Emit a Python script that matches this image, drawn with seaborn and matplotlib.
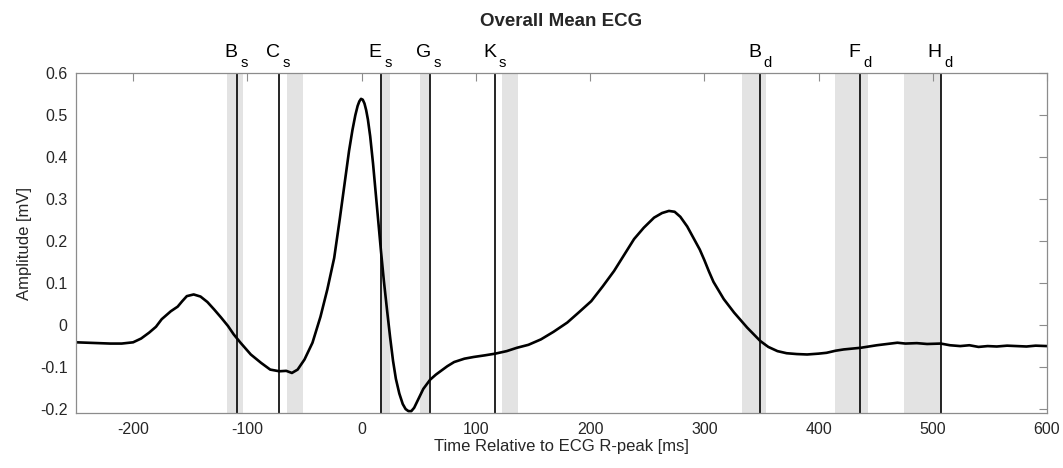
import numpy as np
import pandas as pd
import matplotlib
matplotlib.use('Agg')
import matplotlib.pyplot as plt
import seaborn as sns

# mean ECG trace
time_ms = [-250, -240, -230, -220, -210, -200, -193, -186, -180, -175, -167, -161, -157,
           -153, -147, -141, -135, -129, -123, -117, -112, -106, -97, -88, -80, -72, -66,
           -61, -56, -50, -43, -36, -30, -24, -19, -15, -11, -8, -5.5, -3.5, -2, -0.5,
           1, 2.5, 4, 5.5, 7.5, 10, 12.5, 15, 17, 19.5, 22.5, 25, 27.5, 30, 33, 36, 38.5,
           41, 43.5, 46, 49, 54, 60, 65, 69, 75, 81, 90, 98, 108, 117, 127, 136, 146, 157,
           168, 180, 190, 201, 211, 221, 230, 238.5, 247, 256, 263, 269, 274, 279, 285,
           291, 296, 300, 304, 308, 317, 326, 337.5, 349, 356, 364, 372, 381, 390, 400,
           407, 415, 422, 430, 437, 444, 451, 460, 469, 476, 486, 495, 507, 515, 524, 532,
           540, 548, 556, 565, 573, 582, 590, 600]
amp_mv = [-0.041, -0.042, -0.043, -0.044, -0.044, -0.041, -0.032, -0.018, -0.004, 0.014,
          0.033, 0.044, 0.057, 0.069, 0.073, 0.068, 0.055, 0.037, 0.018, -0.002, -0.022,
          -0.042, -0.070, -0.090, -0.106, -0.110, -0.109, -0.114, -0.106, -0.082, -0.042,
          0.020, 0.085, 0.160, 0.255, 0.335, 0.415, 0.465, 0.500, 0.522, 0.533, 0.539,
          0.537, 0.528, 0.512, 0.490, 0.450, 0.385, 0.310, 0.235, 0.175, 0.105, 0.030,
          -0.030, -0.085, -0.128, -0.163, -0.188, -0.200, -0.205, -0.205, -0.197,
          -0.180, -0.152, -0.130, -0.118, -0.110, -0.098, -0.088, -0.080, -0.076, -0.072,
          -0.068, -0.062, -0.054, -0.047, -0.034, -0.016, 0.006, 0.030, 0.057, 0.092,
          0.129, 0.168, 0.205, 0.232, 0.256, 0.267, 0.272, 0.270, 0.258, 0.235, 0.205,
          0.180, 0.155, 0.128, 0.103, 0.062, 0.030, -0.006, -0.038, -0.052, -0.062,
          -0.067, -0.069, -0.070, -0.068, -0.066, -0.061, -0.058, -0.056, -0.054, -0.051,
          -0.048, -0.045, -0.042, -0.044, -0.043, -0.045, -0.044, -0.048, -0.050, -0.048,
          -0.052, -0.050, -0.051, -0.049, -0.050, -0.051, -0.049, -0.050]

# event markers and their windows
marker_names = ['B', 'C', 'E', 'G', 'K', 'B', 'F', 'H']
marker_subs = ['s', 's', 's', 's', 's', 'd', 'd', 'd']
marker_times = [-109, -72, 17, 60, 117, 349, 436, 507]
window_start = [-118, -65, 16, 51, 123, 333, 414, 475]
window_end = [-104, -51, 25, 59, 137, 354, 443, 507]

df = pd.DataFrame({'time': time_ms, 'amp': amp_mv})

sns.set_style('white')
plt.rcParams['font.family'] = ['Liberation Sans', 'DejaVu Sans']
plt.rcParams['axes.unicode_minus'] = False

fig = plt.figure(figsize=(10.63, 4.68), dpi=100)
ax = fig.add_axes([0.0715, 0.117, 0.9135, 0.7265])

for s, e in zip(window_start, window_end):
    ax.axvspan(s, e, color='#e3e3e3', lw=0, zorder=0)

for t in marker_times:
    ax.axvline(t, color='black', lw=1.2, zorder=1)

sns.lineplot(data=df, x='time', y='amp', color='black', lw=1.9, ax=ax, zorder=2)

ax.set_xlim(-250, 600)
ax.set_ylim(-0.21, 0.6)
ax.set_xticks(np.arange(-200, 601, 100))
ax.set_yticks(np.round(np.arange(-0.2, 0.61, 0.1), 1))
ax.set_yticklabels(['-0.2', '-0.1', '0', '0.1', '0.2', '0.3', '0.4', '0.5', '0.6'])

# letter ends at the line, subscript sits lower just right of it
for name, sub, t in zip(marker_names, marker_subs, marker_times):
    ax.annotate(name, xy=(t, 0.6), xytext=(0.5, 12), textcoords='offset points',
                ha='right', va='baseline', fontsize=14, color='black',
                annotation_clip=False)
    ax.annotate(sub, xy=(t, 0.6), xytext=(2.5, 4.5), textcoords='offset points',
                ha='left', va='baseline', fontsize=10.5, color='black',
                annotation_clip=False)

for sp in ax.spines.values():
    sp.set_color('#8c8c8c')
    sp.set_linewidth(0.9)
ax.tick_params(direction='in', length=6, width=0.8, color='#8c8c8c',
               top=True, right=True, labelsize=11.5, labelcolor='#262626', pad=6)

ax.set_xlabel('Time Relative to ECG R-peak [ms]', fontsize=12, color='#262626', labelpad=2)
ax.set_ylabel('Amplitude [mV]', fontsize=12, color='#262626', labelpad=6)
ax.set_title('Overall Mean ECG', fontsize=13.5, fontweight='bold', pad=34)

fig.savefig('out.png', dpi=100)
